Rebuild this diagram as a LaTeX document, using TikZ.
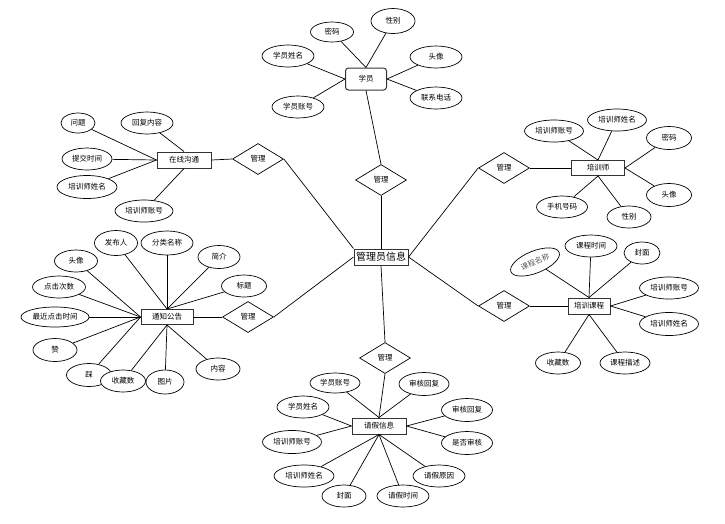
\documentclass[tikz,border=0pt]{standalone}
\usepackage{fontspec}
\setmainfont{Noto Sans CJK SC}
\usepackage{tikz}
\usetikzlibrary{shapes.geometric}

\tikzset{
  attr/.style={ellipse,draw,fill=white,inner sep=0pt,minimum width=#1,minimum height=22pt,
    font=\fontsize{7.5}{8}\selectfont},
  attr/.default=52pt,
  ent/.style={rectangle,draw=black!80,line width=1pt,inner sep=0pt,
    minimum width=#1,minimum height=16pt,font=\fontsize{7.5}{8}\selectfont},
  rel/.style={diamond,draw,inner sep=0pt,minimum width=51pt,minimum height=31pt,
    font=\fontsize{7.5}{8}\selectfont}
}

\begin{document}
\begin{tikzpicture}[x=1pt,y=-1pt,line width=.7pt]
\useasboundingbox (0,0) rectangle (725,523);
  % entities
  \node[ent=54pt,font=\fontsize{10}{11}\selectfont] (admin) at (381,257) {管理员信息};
  \node[ent=41pt,minimum height=22pt,rounded corners=3pt] (xy) at (366,79) {学员};
  \node[ent=54pt] (zx) at (184,160) {在线沟通};
  \node[ent=53pt,minimum height=15pt] (px) at (598,168) {培训师};
  \node[ent=42pt] (kc) at (589,306) {培训课程};
  \node[ent=52pt,minimum height=15pt] (gg) at (167,317) {通知公告};
  \node[ent=54pt] (qj) at (379,426) {请假信息};
  % relations
  \node[rel] (m1) at (381,180) {管理};
  \node[rel] (m2) at (258,159) {管理};
  \node[rel] (m3) at (248,317) {管理};
  \node[rel] (m4) at (504,168) {管理};
  \node[rel] (m5) at (504,306) {管理};
  \node[rel] (m6) at (385,358) {管理};
  % 学员
  \node[attr=43pt,minimum height=20pt] (xy1) at (332,32) {密码};
  \node[attr=44pt,minimum height=25pt] (xy2) at (393,21) {性别};
  \node[attr] (xy3) at (288,56) {学员姓名};
  \node[attr] (xy4) at (436,57) {头像};
  \node[attr] (xy5) at (436,98) {联系电话};
  \node[attr] (xy6) at (298,107) {学员账号};
  % 在线沟通
  \node[attr=34pt,minimum height=20pt] (zx1) at (78,123) {问题};
  \node[attr] (zx2) at (147,123) {回复内容};
  \node[attr=50pt] (zx3) at (87,159) {提交时间};
  \node[attr=60pt,minimum height=23pt] (zx4) at (87,187) {培训师姓名};
  \node[attr=58pt] (zx5) at (144,211) {培训师账号};
  % 培训师
  \node[attr=59pt] (px1) at (554,131) {培训师账号};
  \node[attr=59pt] (px2) at (617,120) {培训师姓名};
  \node[attr=45pt,minimum height=23pt] (px3) at (669,138) {密码};
  \node[attr=45pt,minimum height=23pt] (px4) at (669,195) {头像};
  \node[attr=51pt] (px5) at (562,207) {手机号码};
  \node[attr=44pt] (px6) at (629,217) {性别};
  % 培训课程
  \node[attr,rotate=22,text=black!65] (kc1) at (535,262) {课程名称};
  \node[attr] (kc2) at (591,246) {课程时间};
  \node[attr=36pt] (kc3) at (642,253) {封面};
  \node[attr=59pt] (kc4) at (669,288) {培训师账号};
  \node[attr=59pt,minimum height=23pt] (kc5) at (669,324) {培训师姓名};
  \node[attr=45pt] (kc6) at (558,363) {收藏数};
  \node[attr=50pt] (kc7) at (625,363) {课程描述};
  % 通知公告
  \node[attr=43pt,minimum height=25pt] (gg1) at (116,243) {发布人};
  \node[attr,minimum height=24pt] (gg2) at (167,243) {分类名称};
  \node[attr=42pt,minimum height=23pt] (gg3) at (219,257) {简介};
  \node[attr=45pt] (gg4) at (244,286) {标题};
  \node[attr=43pt] (gg5) at (76,261) {头像};
  \node[attr=53pt] (gg6) at (59,287) {点击次数};
  \node[attr=68pt,minimum height=20pt] (gg7) at (55,317) {最近点击时间};
  \node[attr=44pt,minimum height=23pt] (gg8) at (55,350) {赞};
  \node[attr=45pt,minimum height=23pt] (gg9) at (89,375) {踩};
  \node[attr=45pt] (gg10) at (123,381) {收藏数};
  \node[attr=38pt,minimum height=24pt] (gg11) at (165,382) {图片};
  \node[attr=44pt] (gg12) at (218,369) {内容};
  % 请假信息
  \node[attr=50pt,minimum height=20pt] (qj1) at (335,383) {学员账号};
  \node[attr=50pt,minimum height=23pt] (qj2) at (424,384) {审核回复};
  \node[attr] (qj3) at (303,407) {学员姓名};
  \node[attr=51pt,minimum height=23pt] (qj4) at (467,410) {审核回复};
  \node[attr=59pt,minimum height=23pt] (qj5) at (292,442) {培训师账号};
  \node[attr=51pt,minimum height=23pt] (qj6) at (467,443) {是否审核};
  \node[attr=60pt] (qj7) at (304,476) {培训师姓名};
  \node[attr] (qj8) at (439,476) {请假原因};
  \node[attr=44pt] (qj9) at (344,496) {封面};
  \node[attr] (qj10) at (403,496) {请假时间};
  % links to the admin box
  \draw (admin.north) -- (m1.south);
  \draw (m1.north) -- (xy.south);
  \draw (m2.east) -- (admin.north west);
  \draw (m2.west) -- (zx.east);
  \draw (m3.east) -- (admin.west);
  \draw (m3.west) -- (gg.east);
  \draw (m4.west) -- (admin.east);
  \draw (m4.east) -- (px.west);
  \draw (m5.west) -- (admin.east);
  \draw (m5.east) -- (kc.west);
  \draw (admin.south) -- (m6.north);
  \draw (m6.south) -- (qj.north);
  % attributes
  \foreach \a/\b in {xy1/xy.north,xy2/xy.north,xy3/xy.west,xy6/xy.west,xy4/xy.east,xy5/xy.east,
    zx1/zx.west,zx3/zx.west,zx4/zx.west,zx2/zx.north,zx5/zx.south,
    px1/px.north,px2/px.north,px3/px.east,px4/px.east,px5/px.south,px6/px.south,
    kc1/kc.north,kc2/kc.north,kc3/kc.north,kc4/kc.east,kc5/kc.east,kc6/kc.south,kc7/kc.south,
    gg1/gg.north,gg2/gg.north,gg3/gg.north,gg4/gg.north,gg5/gg.west,gg6/gg.west,gg7/gg.west,
    gg8/gg.west,gg9/gg.west,gg10/gg.south,gg11/gg.south,gg12/gg.south,
    qj1/qj.north,qj2/qj.north,qj3/qj.west,qj5/qj.west,qj4/qj.east,qj6/qj.east,
    qj7/qj.south,qj8/qj.south,qj9/qj.south,qj10/qj.south}
    \draw (\a) -- (\b);
\end{tikzpicture}
\end{document}
